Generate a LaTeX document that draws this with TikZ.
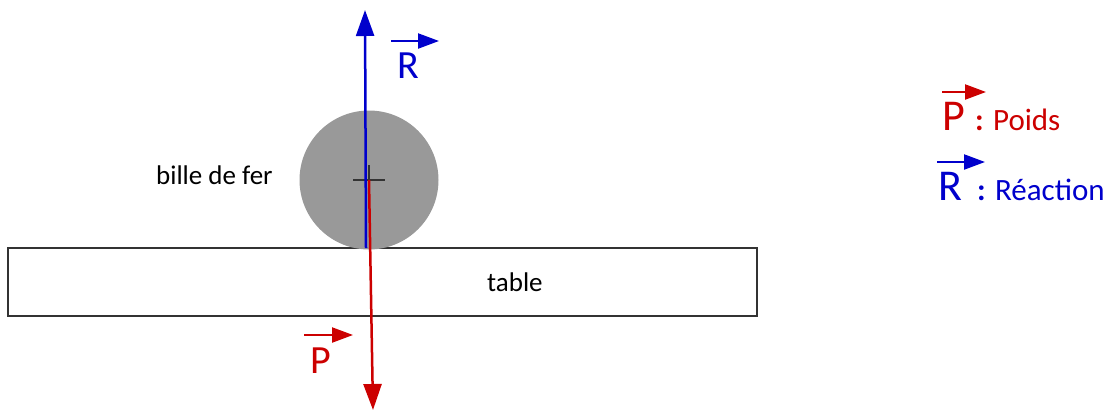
\documentclass[tikz,border=0pt]{standalone}
\usepackage{fontspec}
\setmainfont{Carlito}
\usepackage{tikz}
\usetikzlibrary{arrows.meta,calc}
\usepackage{xcolor}
\definecolor{frBlue}{HTML}{0000CC}
\definecolor{frRed}{HTML}{CC0000}
\definecolor{frGray}{HTML}{999999}
\definecolor{frLine}{HTML}{333333}
\tikzset{
  forceR/.style={-{Triangle[length=26pt,width=18pt]}, line width=2.5pt, draw=frBlue},
  forceP/.style={-{Triangle[length=26pt,width=18pt]}, line width=2.5pt, draw=frRed},
  vecarr/.style={-{Triangle[length=21pt,width=15pt]}, line width=2.2pt},
  tablebox/.style={draw=frLine, fill=white, line width=1.8pt, inner sep=0pt},
  bille/.style={circle, fill=frGray, inner sep=0pt},
  cross/.style={draw=frLine, line width=1.5pt},
  lab/.style={font=\fontsize{27}{30}\selectfont, inner sep=0pt},
  vecletter/.style={font=\fontsize{40}{44}\selectfont, inner sep=0pt},
  legletter/.style={font=\fontsize{44}{48}\selectfont, inner sep=0pt},
  legword/.style={font=\fontsize{31}{34}\selectfont, inner sep=0pt}
}
\begin{document}
\begin{tikzpicture}[x=1pt,y=-1pt]
  \useasboundingbox (0,0) rectangle (1112,410);
  \node[tablebox, minimum width=749, minimum height=68] (table) at (382.5,282) {};
  \node[lab, anchor=base west] (tablelab) at (487,291) {table};
  \node[bille, minimum size=139] (bille) at (369,180) {};
  \node[lab, anchor=base west] (billelab) at (156,184) {bille de fer};
  \draw[cross] ($(bille.center)+(-16,0)$) -- ($(bille.center)+(16,0)$);
  \draw[cross] ($(bille.center)+(0,-15)$) -- (bille.center);

  % forces
  \coordinate (contact) at (366,248);
  \coordinate (Rtip) at (365,10);
  \coordinate (Ptip) at (373,410);
  \draw[forceR] (contact) -- (Rtip);
  \draw[forceP] (bille.center) -- (Ptip);

  \node[vecletter, text=frBlue, anchor=base] (Rlet) at (408,78) {R};
  \draw[vecarr, draw=frBlue] ($(Rlet.base)+(-17,-37)$) -- ($(Rlet.base)+(31,-37)$);
  \node[vecletter, text=frRed, anchor=base] (Plet) at (321,373) {P};
  \draw[vecarr, draw=frRed] ($(Plet.base)+(-17,-38)$) -- ($(Plet.base)+(32,-38)$);

  % legende
  \node[legletter, text=frRed, anchor=base] (legP) at (954,130) {P};
  \draw[vecarr, draw=frRed] ($(legP.base)+(-12,-38)$) -- ($(legP.base)+(32,-38)$);
  \node[legword, text=frRed, anchor=base west] (legPtxt) at (975,130) {\textbf{:} Poids};
  \node[legletter, text=frBlue, anchor=base] (legR) at (950,200) {R};
  \draw[vecarr, draw=frBlue] ($(legR.base)+(-13,-38)$) -- ($(legR.base)+(35,-38)$);
  \node[legword, text=frBlue, anchor=base west] (legRtxt) at (977,200) {\textbf{:} Réaction};
\end{tikzpicture}
\end{document}
